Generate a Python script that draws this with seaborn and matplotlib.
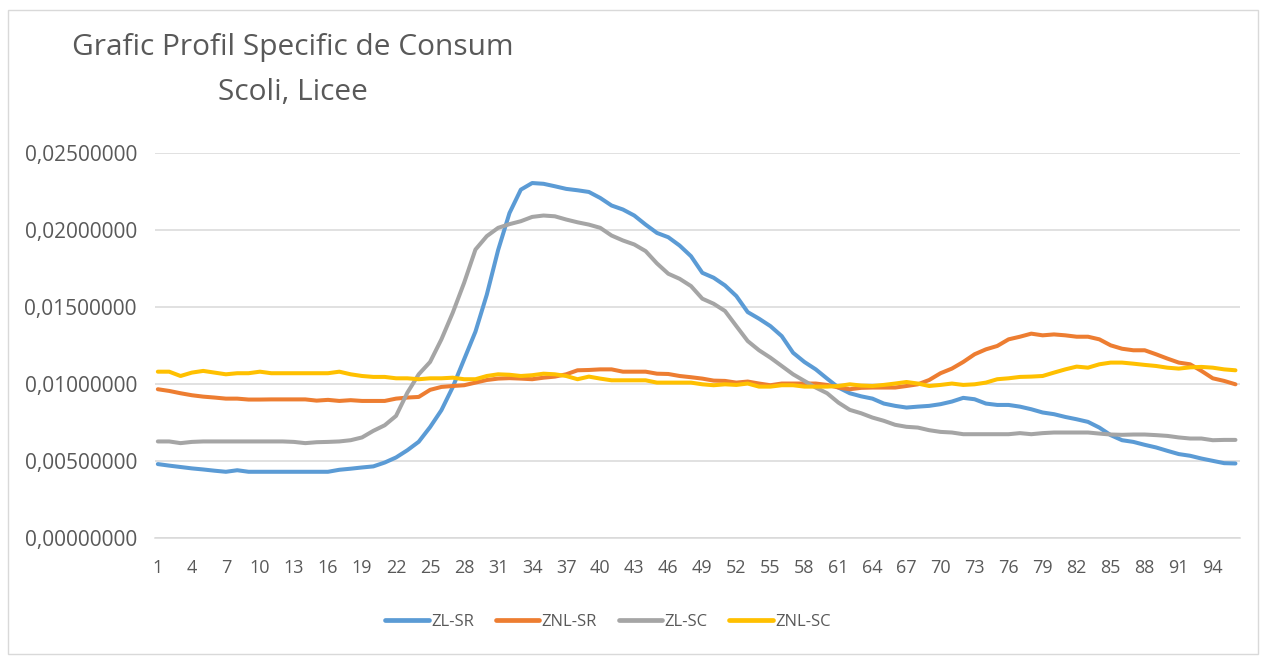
import numpy as np
import pandas as pd
import matplotlib
matplotlib.use("Agg")
import matplotlib.pyplot as plt
import seaborn as sns
from matplotlib.lines import Line2D
from matplotlib.patches import Rectangle
from matplotlib.ticker import FuncFormatter

intervals = list(range(1, 97))

zl_sr = [0.00480, 0.00470, 0.00461, 0.00452, 0.00445, 0.00437, 0.00430, 0.00440, 0.00430, 0.00430,
         0.00430, 0.00430, 0.00430, 0.00430, 0.00430, 0.00430, 0.00443, 0.00450, 0.00458, 0.00465,
         0.00490, 0.00523, 0.00570, 0.00625, 0.00720, 0.00830, 0.00980, 0.01160, 0.01340, 0.01580,
         0.01870, 0.02110, 0.02262, 0.02305, 0.02300, 0.02284, 0.02267, 0.02258, 0.02247, 0.02208,
         0.02159, 0.02133, 0.02094, 0.02035, 0.01981, 0.01953, 0.01899, 0.01830, 0.01722, 0.01690,
         0.01640, 0.01571, 0.01467, 0.01424, 0.01376, 0.01311, 0.01203, 0.01143, 0.01095, 0.01035,
         0.00977, 0.00940, 0.00920, 0.00905, 0.00873, 0.00858, 0.00847, 0.00853, 0.00858, 0.00869,
         0.00886, 0.00910, 0.00901, 0.00873, 0.00864, 0.00864, 0.00853, 0.00836, 0.00815, 0.00804,
         0.00786, 0.00771, 0.00754, 0.00717, 0.00668, 0.00635, 0.00624, 0.00605, 0.00588, 0.00566,
         0.00545, 0.00534, 0.00516, 0.00501, 0.00486, 0.00484]

znl_sr = [0.00966, 0.00955, 0.00940, 0.00927, 0.00918, 0.00912, 0.00905, 0.00905, 0.00899, 0.00899,
          0.00900, 0.00900, 0.00900, 0.00900, 0.00892, 0.00897, 0.00890, 0.00895, 0.00890, 0.00890,
          0.00890, 0.00905, 0.00912, 0.00916, 0.00962, 0.00981, 0.00987, 0.00992, 0.01009, 0.01026,
          0.01035, 0.01038, 0.01035, 0.01031, 0.01041, 0.01048, 0.01063, 0.01089, 0.01091, 0.01095,
          0.01095, 0.01080, 0.01080, 0.01080, 0.01067, 0.01065, 0.01052, 0.01044, 0.01035, 0.01022,
          0.01020, 0.01009, 0.01016, 0.01003, 0.00992, 0.01003, 0.01003, 0.01003, 0.01003, 0.00994,
          0.00977, 0.00966, 0.00975, 0.00977, 0.00977, 0.00977, 0.00987, 0.00998, 0.01026, 0.01070,
          0.01100, 0.01143, 0.01193, 0.01225, 0.01247, 0.01290, 0.01307, 0.01327, 0.01316, 0.01322,
          0.01316, 0.01307, 0.01307, 0.01290, 0.01251, 0.01229, 0.01219, 0.01219, 0.01193, 0.01165,
          0.01139, 0.01128, 0.01085, 0.01037, 0.01020, 0.00998]

zl_sc = [0.00627, 0.00627, 0.00616, 0.00624, 0.00627, 0.00627, 0.00627, 0.00627, 0.00627, 0.00627,
         0.00627, 0.00627, 0.00624, 0.00616, 0.00622, 0.00624, 0.00627, 0.00635, 0.00653, 0.00696,
         0.00732, 0.00793, 0.00944, 0.01063, 0.01143, 0.01290, 0.01463, 0.01657, 0.01873, 0.01960,
         0.02014, 0.02038, 0.02057, 0.02085, 0.02094, 0.02089, 0.02068, 0.02050, 0.02035, 0.02014,
         0.01964, 0.01932, 0.01906, 0.01863, 0.01783, 0.01716, 0.01683, 0.01636, 0.01554, 0.01521,
         0.01474, 0.01376, 0.01279, 0.01219, 0.01171, 0.01117, 0.01063, 0.01020, 0.00977, 0.00940,
         0.00879, 0.00832, 0.00810, 0.00782, 0.00761, 0.00735, 0.00722, 0.00717, 0.00700, 0.00689,
         0.00685, 0.00674, 0.00674, 0.00674, 0.00674, 0.00674, 0.00681, 0.00674, 0.00681, 0.00685,
         0.00685, 0.00685, 0.00685, 0.00678, 0.00672, 0.00670, 0.00672, 0.00672, 0.00668, 0.00663,
         0.00653, 0.00646, 0.00646, 0.00635, 0.00637, 0.00637]

znl_sc = [0.01080, 0.01080, 0.01052, 0.01074, 0.01085, 0.01074, 0.01063, 0.01070, 0.01070, 0.01080,
          0.01070, 0.01070, 0.01070, 0.01070, 0.01070, 0.01070, 0.01080, 0.01063, 0.01052, 0.01046,
          0.01046, 0.01037, 0.01037, 0.01031, 0.01037, 0.01037, 0.01041, 0.01031, 0.01031, 0.01052,
          0.01063, 0.01060, 0.01052, 0.01057, 0.01067, 0.01063, 0.01052, 0.01031, 0.01048, 0.01035,
          0.01024, 0.01024, 0.01024, 0.01024, 0.01009, 0.01009, 0.01009, 0.01009, 0.00998, 0.00992,
          0.00998, 0.00994, 0.01003, 0.00983, 0.00983, 0.00992, 0.00992, 0.00983, 0.00983, 0.00983,
          0.00987, 0.00998, 0.00990, 0.00987, 0.00994, 0.01003, 0.01013, 0.01003, 0.00987, 0.00994,
          0.01003, 0.00994, 0.00998, 0.01009, 0.01031, 0.01037, 0.01046, 0.01048, 0.01052, 0.01074,
          0.01095, 0.01113, 0.01106, 0.01128, 0.01139, 0.01139, 0.01132, 0.01124, 0.01117, 0.01106,
          0.01100, 0.01108, 0.01111, 0.01106, 0.01095, 0.01089]

series_names = ["ZL-SR", "ZNL-SR", "ZL-SC", "ZNL-SC"]
colors = ["#5B9BD5", "#ED7D31", "#A5A5A5", "#FFC000"]
y_ticks = [0.0, 0.005, 0.010, 0.015, 0.020, 0.025]
x_ticks = list(range(1, 97, 3))

df = pd.DataFrame({
    "interval": intervals * 4,
    "value": zl_sr + znl_sr + zl_sc + znl_sc,
    "series": sum([[n] * 96 for n in series_names], []),
})

sns.set_theme(style="white")
plt.rcParams["font.family"] = ["Open Sans", "DejaVu Sans"]
text_color = "#595959"

fig = plt.figure(figsize=(12.61, 6.56), dpi=100)
ax = fig.add_axes([155 / 1261, 1 - 538 / 656, (1240 - 155) / 1261, (538 - 153) / 656])

sns.lineplot(data=df, x="interval", y="value", hue="series", hue_order=series_names,
             palette=colors, linewidth=2.9, legend=False, ax=ax, sort=False,
             solid_capstyle="round", solid_joinstyle="round")

ax.set_xlim(0.75, 96.4)
ax.set_ylim(0, 0.025)
ax.set_yticks(y_ticks)
ax.yaxis.set_major_formatter(FuncFormatter(lambda v, p: f"{v:.8f}".replace(".", ",")))
ax.set_xticks(x_ticks)
ax.set_xticklabels([str(t) for t in x_ticks])
ax.grid(axis="y", color="#D9D9D9", linewidth=1.1)
ax.set_axisbelow(True)
for s in ["top", "right", "left"]:
    ax.spines[s].set_visible(False)
ax.spines["bottom"].set_color("#D9D9D9")
ax.spines["bottom"].set_linewidth(1.1)
ax.tick_params(axis="both", length=0, colors=text_color)
ax.tick_params(axis="x", labelsize=13, pad=15)
ax.tick_params(axis="y", labelsize=15, pad=13)
ax.set_xlabel("")
ax.set_ylabel("")

fig.text(293 / 1261, 1 - 48 / 656, "Grafic Profil Specific de Consum", ha="center", va="center",
         fontsize=21.5, color=text_color)
fig.text(293 / 1261, 1 - 93 / 656, "Scoli, Licee", ha="center", va="center",
         fontsize=21.5, color=text_color)

handles = [Line2D([0], [0], color=c, lw=3.4, solid_capstyle="round") for c in colors]
fig.legend(handles, series_names, loc="center", bbox_to_anchor=(608 / 1261, 1 - 622 / 656),
           ncol=4, frameon=False, fontsize=12, handlelength=2.6, columnspacing=1.3,
           handletextpad=0.15, labelcolor=text_color)

fig.patches.append(Rectangle((8 / 1261, 2 / 656), 1250 / 1261, 644 / 656, transform=fig.transFigure,
                             fill=False, edgecolor="#D9D9D9", linewidth=1.0))

fig.savefig("out.png", dpi=100, facecolor="white")
